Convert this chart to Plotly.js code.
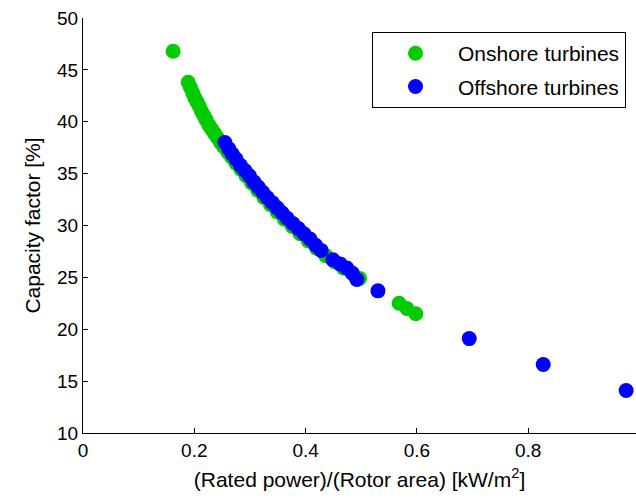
<!DOCTYPE html>
<html>
<head>
<meta charset="utf-8">
<script src="https://cdn.plot.ly/plotly-3.0.1.min.js"></script>
<style>html,body{margin:0;padding:0;background:#fff;}#chart{width:636px;height:503px;}</style>
</head>
<body>
<div id="chart"></div>
<script>
// Onshore turbines: specific power (kW/m^2) vs capacity factor (%)
const onshoreX = [0.162, 0.189, 0.193, 0.197, 0.201, 0.205, 0.209, 0.213, 0.217, 0.221, 0.226, 0.231, 0.236, 0.241, 0.247, 0.253, 0.260, 0.267, 0.275, 0.284, 0.293, 0.303, 0.314, 0.325, 0.337, 0.349, 0.362, 0.376, 0.390, 0.405, 0.420, 0.436, 0.452, 0.468, 0.484, 0.497, 0.568, 0.582, 0.598];
const onshoreY = [46.8, 43.8, 43.3, 42.8, 42.3, 41.9, 41.5, 41.0, 40.6, 40.2, 39.7, 39.3, 38.9, 38.5, 38.0, 37.6, 37.1, 36.6, 36.0, 35.4, 34.8, 34.1, 33.4, 32.7, 32.0, 31.3, 30.6, 29.9, 29.2, 28.5, 27.8, 27.1, 26.5, 25.9, 25.4, 24.9, 22.5, 22.0, 21.5];
// Offshore turbines
const offshoreX = [0.255, 0.262, 0.268, 0.275, 0.283, 0.291, 0.299, 0.307, 0.315, 0.323, 0.331, 0.340, 0.349, 0.358, 0.367, 0.377, 0.387, 0.397, 0.408, 0.418, 0.428, 0.449, 0.462, 0.474, 0.484, 0.492, 0.530, 0.694, 0.827, 0.976];
const offshoreY = [38.0, 37.4, 36.9, 36.4, 35.8, 35.3, 34.8, 34.2, 33.7, 33.2, 32.7, 32.2, 31.7, 31.2, 30.7, 30.2, 29.7, 29.2, 28.7, 28.1, 27.6, 26.7, 26.3, 25.9, 25.4, 24.8, 23.7, 19.1, 16.6, 14.1];
const seriesNames = ["Onshore turbines", "Offshore turbines"];
const xTicks = [0, 0.2, 0.4, 0.6, 0.8, 1];
const yTicks = [10, 15, 20, 25, 30, 35, 40, 45, 50];

const FONT = "Liberation Sans, Arial, sans-serif";
const traces = [
  {x: onshoreX, y: onshoreY, name: seriesNames[0], type: "scatter", mode: "markers",
   legendgroup: "a", marker: {color: "#00cc00", size: 15}},
  {x: offshoreX, y: offshoreY, name: seriesNames[1], type: "scatter", mode: "markers",
   legendgroup: "b", marker: {color: "#0000ff", size: 15}}
];
const layout = {
  width: 636, height: 503,
  margin: {l: 83, r: 0, t: 18, b: 70, pad: 0},
  paper_bgcolor: "#fff", plot_bgcolor: "#fff",
  font: {family: FONT, size: 19, color: "#000"},
  showlegend: true,
  legend: {x: 0.5226, y: 0.966, xanchor: "left", yanchor: "top",
           bordercolor: "#000", borderwidth: 1, bgcolor: "#fff",
           font: {family: FONT, size: 21, color: "#000"},
           itemwidth: 75, traceorder: "grouped", tracegroupgap: 3},
  xaxis: {range: [0, 0.9937], tickvals: xTicks, ticktext: xTicks.map(String),
          showgrid: false, zeroline: false, showline: true, linecolor: "#000", linewidth: 1,
          ticks: "inside", ticklen: 5, tickcolor: "#000",
          title: {text: "(Rated power)/(Rotor area) [kW/m<sup>2</sup>]", font: {family: FONT, size: 21}, standoff: 12}},
  yaxis: {range: [10, 50], tickvals: yTicks,
          showgrid: false, zeroline: false, showline: true, linecolor: "#000", linewidth: 1,
          ticks: "inside", ticklen: 5, tickcolor: "#000",
          title: {text: "Capacity factor [%]", font: {family: FONT, size: 21}, standoff: 10}}
};
Plotly.newPlot("chart", traces, layout, {staticPlot: true, displayModeBar: false});
</script>
</body>
</html>
